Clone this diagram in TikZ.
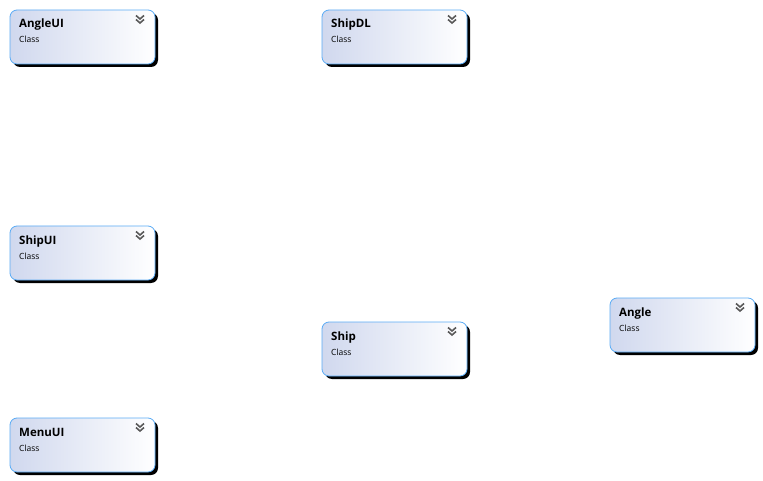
\documentclass[tikz,border=0pt]{standalone}
\usepackage{fontspec}
\setmainfont{Open Sans}
\usetikzlibrary{shadows}
\definecolor{boxborder}{HTML}{5AABF5}
\definecolor{boxleft}{HTML}{D0D8EE}
\definecolor{chevgray}{HTML}{5A5A5A}
\begin{document}
\begin{tikzpicture}[x=1pt,y=-1pt,
  classbox/.style={draw=boxborder, thick, rounded corners=7pt, left color=boxleft, right color=white,
    minimum width=145pt, minimum height=54pt, outer sep=0pt,
    drop shadow={shadow xshift=3pt, shadow yshift=-3pt, fill=black, opacity=1}},
  classname/.style={anchor=base west, inner sep=0pt, font=\fontsize{11.5}{13}\selectfont\bfseries},
  classkind/.style={anchor=base west, inner sep=0pt, font=\fontsize{8.5}{10}\selectfont},
  chevron/.style={draw=chevgray, line width=1.6pt}]
\useasboundingbox (0,0) rectangle (763,481);

\node[classbox] (angleui) at (82.5,37) {};
\node[classname] (angleuiname) at (19,28) {AngleUI};
\node[classkind] (angleuikind) at (19,43) {Class};
\draw[chevron] (136,15.5) -- (140,19) -- (144,15.5);
\draw[chevron] (136,19.5) -- (140,23) -- (144,19.5);

\node[classbox] (shipdl) at (394.5,37) {};
\node[classname] (shipdlname) at (331,28) {ShipDL};
\node[classkind] (shipdlkind) at (331,43) {Class};
\draw[chevron] (448,15.5) -- (452,19) -- (456,15.5);
\draw[chevron] (448,19.5) -- (452,23) -- (456,19.5);

\node[classbox] (shipui) at (82.5,253) {};
\node[classname] (shipuiname) at (19,244) {ShipUI};
\node[classkind] (shipuikind) at (19,259) {Class};
\draw[chevron] (136,231.5) -- (140,235) -- (144,231.5);
\draw[chevron] (136,235.5) -- (140,239) -- (144,235.5);

\node[classbox] (ship) at (394.5,349) {};
\node[classname] (shipname) at (331,340) {Ship};
\node[classkind] (shipkind) at (331,355) {Class};
\draw[chevron] (448,327.5) -- (452,331) -- (456,327.5);
\draw[chevron] (448,331.5) -- (452,335) -- (456,331.5);

\node[classbox] (angle) at (682.5,325) {};
\node[classname] (anglename) at (619,316) {Angle};
\node[classkind] (anglekind) at (619,331) {Class};
\draw[chevron] (736,303.5) -- (740,307) -- (744,303.5);
\draw[chevron] (736,307.5) -- (740,311) -- (744,307.5);

\node[classbox] (menuui) at (82.5,445) {};
\node[classname] (menuuiname) at (19,436) {MenuUI};
\node[classkind] (menuuikind) at (19,451) {Class};
\draw[chevron] (136,423.5) -- (140,427) -- (144,423.5);
\draw[chevron] (136,427.5) -- (140,431) -- (144,427.5);
\end{tikzpicture}
\end{document}
